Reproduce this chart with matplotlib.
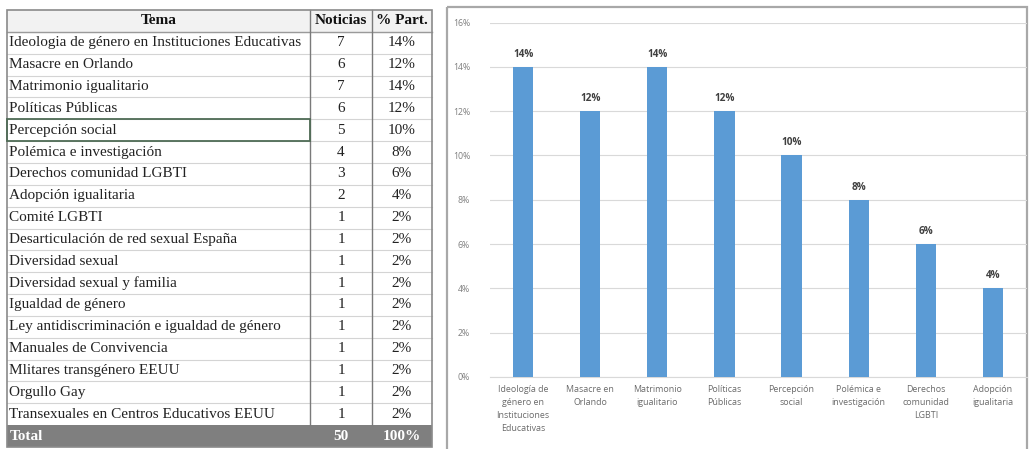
import matplotlib
matplotlib.use("Agg")
import matplotlib.pyplot as plt
from matplotlib.patches import Rectangle

# ---------------- data ----------------
temas = [
    "Ideologia de género en Instituciones Educativas",
    "Masacre en Orlando",
    "Matrimonio igualitario",
    "Políticas Públicas",
    "Percepción social",
    "Polémica e investigación",
    "Derechos comunidad LGBTI",
    "Adopción igualitaria",
    "Comité LGBTI",
    "Desarticulación de red sexual España",
    "Diversidad sexual",
    "Diversidad sexual y familia",
    "Igualdad de género",
    "Ley antidiscriminación e igualdad de género",
    "Manuales de Convivencia",
    "Mlitares transgénero EEUU",
    "Orgullo Gay",
    "Transexuales en Centros Educativos EEUU",
]
noticias = [7, 6, 7, 6, 5, 4, 3, 2, 1, 1, 1, 1, 1, 1, 1, 1, 1, 1]
part = ["14%", "12%", "14%", "12%", "10%", "8%", "6%", "4%", "2%", "2%",
        "2%", "2%", "2%", "2%", "2%", "2%", "2%", "2%"]
total_noticias = "50"
total_part = "100%"
headers = ["Tema", "Noticias", "% Part."]

chart_labels = [
    "Ideología de\ngénero en\nInstituciones\nEducativas",
    "Masacre en\nOrlando",
    "Matrimonio\nigualitario",
    "Políticas\nPúblicas",
    "Percepción\nsocial",
    "Polémica e\ninvestigación",
    "Derechos\ncomunidad\nLGBTI",
    "Adopción\nigualitaria",
]
chart_values = [0.14, 0.12, 0.14, 0.12, 0.10, 0.08, 0.06, 0.04]
ytick_values = [0, 0.02, 0.04, 0.06, 0.08, 0.10, 0.12, 0.14, 0.16]

# ---------------- figure ----------------
W, H = 1029, 449
fig = plt.figure(figsize=(W / 100, H / 100), dpi=100)
fig.patch.set_facecolor("white")

# ---------- table (pixel coordinate axes) ----------
tax = fig.add_axes([0, 0, 1, 1])
tax.set_xlim(0, W)
tax.set_ylim(H, 0)
tax.axis("off")

x0, x1, x2, x3 = 7, 310, 372, 432
top, bottom = 10, 447
nrows = len(temas) + 2
rh = (bottom - top) / nrows
serif = "Liberation Serif"
fs = 11

# header background
tax.add_patch(Rectangle((x0, top), x3 - x0, rh, facecolor="#f2f2f2",
                        edgecolor="none", zorder=0))
# total background
tax.add_patch(Rectangle((x0, top + rh * (nrows - 1)), x3 - x0, rh,
                        facecolor="#7f7f7f", edgecolor="none", zorder=0))

# horizontal lines
for i in range(1, nrows - 1):
    y = top + rh * i
    tax.plot([x0, x3], [y, y], color="#d4d4d4", lw=0.8, zorder=1)
tax.plot([x0, x3], [top + rh, top + rh], color="#9a9a9a", lw=1.0, zorder=1)
# vertical lines
for xv in (x1, x2):
    tax.plot([xv, xv], [top, top + rh * (nrows - 1)], color="#7a7a7a", lw=1.0, zorder=2)
# outer border
tax.add_patch(Rectangle((x0, top), x3 - x0, bottom - top, facecolor="none",
                        edgecolor="#8a8a8a", lw=1.2, zorder=3))

# header text
yc = top + rh / 2
tax.text((x0 + x1) / 2, yc, headers[0], ha="center", va="center",
         family=serif, fontsize=fs, fontweight="bold", color="#111111")
tax.text((x1 + x2) / 2, yc, headers[1], ha="center", va="center",
         family=serif, fontsize=fs, fontweight="bold", color="#111111")
tax.text((x2 + x3) / 2, yc, headers[2], ha="center", va="center",
         family=serif, fontsize=fs, fontweight="bold", color="#111111")

for i, (t, n, p) in enumerate(zip(temas, noticias, part)):
    yc = top + rh * (i + 1) + rh / 2
    tax.text(x0 + 2, yc, t, ha="left", va="center", family=serif,
             fontsize=fs, color="#222222")
    tax.text((x1 + x2) / 2, yc, str(n), ha="center", va="center",
             family=serif, fontsize=fs, color="#222222")
    tax.text((x2 + x3) / 2, yc, p, ha="center", va="center",
             family=serif, fontsize=fs, color="#222222")

# selected cell (Percepción social)
sel = temas.index("Percepción social")
tax.add_patch(Rectangle((x0, top + rh * (sel + 1)), x1 - x0, rh,
                        facecolor="none", edgecolor="#4f6b55", lw=1.3, zorder=4))

# total row text
yc = top + rh * (nrows - 1) + rh / 2
tax.text(x0 + 3, yc, "Total", ha="left", va="center", family=serif,
         fontsize=fs, fontweight="bold", color="white")
tax.text((x1 + x2) / 2, yc, total_noticias, ha="center", va="center",
         family=serif, fontsize=fs, fontweight="bold", color="white")
tax.text((x2 + x3) / 2, yc, total_part, ha="center", va="center",
         family=serif, fontsize=fs, fontweight="bold", color="white")

# chart box border
tax.add_patch(Rectangle((447, 7), 1027 - 447, H - 7 + 2, facecolor="none",
                        edgecolor="#a8a8a8", lw=1.6, zorder=3))

# ---------- bar chart ----------
left_px, right_px = 489.5, 1026.5
y0_px, y16_px = 377, 22.5
ax = fig.add_axes([left_px / W, (H - y0_px) / H,
                   (right_px - left_px) / W, (y0_px - y16_px) / H])
ax.set_facecolor("none")
xs = list(range(len(chart_values)))
bars = ax.bar(xs, chart_values, width=0.30, color="#5b9bd5", zorder=3)
ax.set_xlim(-0.5, len(chart_values) - 0.5)
ax.set_ylim(0, 0.16)
ax.set_yticks(ytick_values)
ax.set_yticklabels([f"{int(round(v * 100))}%" for v in ytick_values])
ax.yaxis.grid(True, color="#d9d9d9", lw=0.8, zorder=0)
ax.set_axisbelow(True)
for s in ("top", "right", "left"):
    ax.spines[s].set_visible(False)
ax.spines["bottom"].set_color("#d9d9d9")
ax.spines["bottom"].set_linewidth(0.8)
ax.tick_params(axis="y", length=0, pad=14, labelsize=6.3, labelcolor="#7f7f7f")
ax.tick_params(axis="x", length=0, pad=6)
ax.set_xticks(xs)
ax.set_xticklabels(chart_labels, fontsize=6.4, color="#6b6b6b",
                   family="Open Sans", linespacing=1.55)
for lab in ax.get_yticklabels():
    lab.set_family("Open Sans")

for x, v in zip(xs, chart_values):
    ax.annotate(f"{int(round(v * 100))}%", (x, v), xytext=(0, 5),
                textcoords="offset points", ha="center", va="bottom",
                fontsize=7.2, fontweight="bold", color="#404040",
                family="Open Sans")

fig.savefig("out.png", dpi=100, facecolor="white")
